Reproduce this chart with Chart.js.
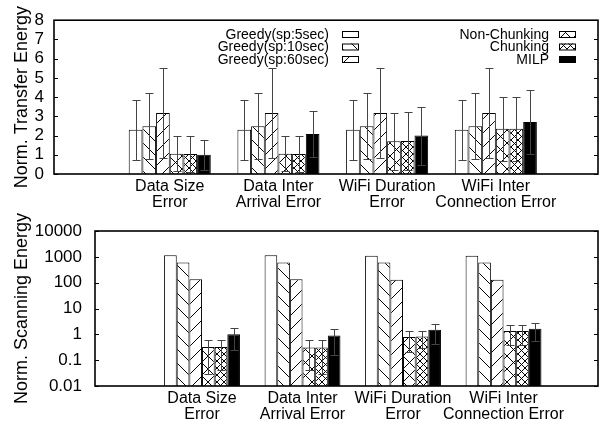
<!DOCTYPE html>
<html>
<head>
<meta charset="utf-8">
<script src="https://cdn.jsdelivr.net/npm/chart.js@4.4.1/dist/chart.umd.min.js"></script>
<style>
  body { margin: 0; background: #fff; width: 605px; height: 423px; position: relative; overflow: hidden; }
  .wrap { position: absolute; left: 0; width: 605px; }
  #topWrap { top: 0; height: 215px; }
  #botWrap { top: 200px; height: 223px; }
</style>
</head>
<body>
<div class="wrap" id="topWrap"><canvas id="transferChart"></canvas></div>
<div class="wrap" id="botWrap"><canvas id="scanChart"></canvas></div>
<script>
const categories = [
  ['Data Size', 'Error'],
  ['Data Inter', 'Arrival Error'],
  ['WiFi Duration', 'Error'],
  ['WiFi Inter', 'Connection Error']
];
const seriesNames = ['Greedy(sp:5sec)', 'Greedy(sp:10sec)', 'Greedy(sp:60sec)', 'Non-Chunking', 'Chunking', 'MILP'];

// normalized transfer energy (mean, error)
const transferGreedy5 = [2.3, 2.3, 2.3, 2.3];
const transferGreedy5Err = [1.55, 1.55, 1.55, 1.55];
const transferGreedy10 = [2.48, 2.48, 2.48, 2.48];
const transferGreedy10Err = [1.72, 1.72, 1.72, 1.72];
const transferGreedy60 = [3.17, 3.17, 3.17, 3.17];
const transferGreedy60Err = [2.33, 2.33, 2.33, 2.33];
const transferNonChunk = [1.05, 1.05, 1.7, 2.36];
const transferNonChunkErr = [0.91, 0.91, 1.47, 1.67];
const transferChunk = [1.04, 1.04, 1.72, 2.36];
const transferChunkErr = [0.92, 0.92, 1.52, 1.67];
const transferMilp = [1.0, 2.08, 2.0, 2.7];
const transferMilpErr = [0.79, 1.21, 1.51, 1.68];
const transferTicks = [0, 1, 2, 3, 4, 5, 6, 7, 8];

// normalized scanning energy (mean, error)
const scanGreedy5 = [1150, 1150, 1100, 1100];
const scanGreedy10 = [600, 600, 600, 600];
const scanGreedy60 = [135, 135, 131, 131];
const scanNonChunk = [0.32, 0.31, 0.78, 1.35];
const scanNonChunkErr = [0.29, 0.27, 0.58, 0.97];
const scanChunk = [0.32, 0.31, 0.83, 1.35];
const scanChunkErr = [0.28, 0.28, 0.53, 0.95];
const scanMilp = [1.0, 0.91, 1.52, 1.66];
const scanMilpErr = [0.76, 0.75, 1.08, 1.1];
const scanTicks = [0.01, 0.1, 1, 10, 100, 1000, 10000];

const FONT = "'Liberation Sans', Arial, Helvetica, sans-serif";

function hatch(size, dirs) {
  const c = document.createElement('canvas');
  c.width = c.height = size;
  const g = c.getContext('2d');
  g.fillStyle = '#fff';
  g.fillRect(0, 0, size, size);
  g.strokeStyle = '#000';
  g.lineWidth = 1;
  dirs.forEach(d => {
    for (let k = -1; k <= 1; k++) {
      g.beginPath();
      if (d === 'back') {
        g.moveTo(k * size, 0);
        g.lineTo(k * size + size, size);
      } else {
        g.moveTo(k * size, size);
        g.lineTo(k * size + size, 0);
      }
      g.stroke();
    }
  });
  return g.createPattern(c, 'repeat');
}

const fills = [
  '#fff',
  hatch(14, ['back']),
  hatch(14, ['fwd']),
  hatch(13, ['back', 'fwd']),
  hatch(7, ['back', 'fwd']),
  '#000'
];

const errorBars = {
  id: 'errorBars',
  afterDatasetsDraw(chart) {
    const ctx = chart.ctx;
    const y = chart.scales.y;
    ctx.save();
    ctx.strokeStyle = '#444';
    ctx.lineWidth = 1;
    chart.data.datasets.forEach((ds, i) => {
      if (!ds.errors) return;
      chart.getDatasetMeta(i).data.forEach((bar, j) => {
        const v = ds.data[j].y, e = ds.errors[j];
        if (!e) return;
        const x = Math.round(bar.x) + 0.5;
        const top = Math.round(y.getPixelForValue(v + e)) + 0.5;
        const bot = Math.round(y.getPixelForValue(v - e)) + 0.5;
        ctx.beginPath();
        ctx.moveTo(x, top); ctx.lineTo(x, bot);
        ctx.moveTo(x - 4, top); ctx.lineTo(x + 4, top);
        ctx.moveTo(x - 4, bot); ctx.lineTo(x + 4, bot);
        ctx.stroke();
      });
    });
    ctx.restore();
  }
};

const frame = {
  id: 'frame',
  afterDraw(chart) {
    const ctx = chart.ctx;
    const a = chart.chartArea;
    const y = chart.scales.y;
    ctx.save();
    ctx.strokeStyle = '#000';
    ctx.lineWidth = 1;
    y.ticks.forEach(t => {
      const py = Math.round(y.getPixelForValue(t.value)) + 0.5;
      ctx.beginPath();
      ctx.moveTo(a.left, py); ctx.lineTo(a.left + 4, py);
      ctx.moveTo(a.right - 4, py); ctx.lineTo(a.right, py);
      ctx.stroke();
    });
    ctx.lineWidth = 1.6;
    ctx.strokeRect(a.left, a.top, a.right - a.left, a.bottom - a.top);
    ctx.restore();
  }
};

const boxLegend = {
  id: 'boxLegend',
  afterDraw(chart) {
    if (!chart.options.plugins.boxLegend.show) return;
    const ctx = chart.ctx;
    const cols = [{ textRight: 329, box: 342 }, { textRight: 549, box: 559 }];
    const rows = [34, 46.5, 59];
    ctx.save();
    ctx.font = '14px ' + FONT;
    ctx.textAlign = 'right';
    ctx.textBaseline = 'middle';
    seriesNames.forEach((name, i) => {
      const col = cols[Math.floor(i / 3)];
      const ry = rows[i % 3];
      ctx.fillStyle = '#000';
      ctx.fillText(name, col.textRight, ry + 1);
      ctx.fillStyle = fills[i];
      ctx.fillRect(col.box, ry - 3, 16, 6);
      ctx.strokeStyle = '#000';
      ctx.lineWidth = 1;
      ctx.strokeRect(col.box + 0.5, ry - 3 + 0.5, 16, 6);
    });
    ctx.restore();
  }
};

function barSets(values, errors) {
  return values.map((vals, i) => ({
    label: seriesNames[i],
    data: vals.map((v, j) => ({ x: j, y: v })),
    errors: errors[i],
    backgroundColor: fills[i],
    borderColor: '#000',
    borderWidth: 1,
    categoryPercentage: 0.755,
    barPercentage: 1
  }));
}

function makeChart(id, datasets, yScale, title, frameBox, showLegend) {
  return new Chart(document.getElementById(id), {
    type: 'bar',
    data: { datasets: datasets },
    options: {
      responsive: true,
      maintainAspectRatio: false,
      animation: false,
      layout: { padding: { top: frameBox.top, right: 7, left: 0, bottom: 0 } },
      plugins: {
        legend: { display: false },
        tooltip: { enabled: false },
        boxLegend: { show: showLegend }
      },
      scales: {
        x: {
          type: 'linear',
          offset: false,
          min: -1.065,
          max: 3.94,
          grid: { display: false, drawTicks: false },
          border: { display: false },
          afterBuildTicks: axis => { axis.ticks = categories.map((c, i) => ({ value: i })); },
          afterFit: axis => { axis.height = frameBox.xHeight; },
          ticks: {
            color: '#000',
            padding: 5,
            maxRotation: 0,
            autoSkip: false,
            font: { family: FONT, size: 16, lineHeight: 1 },
            callback: v => categories[v]
          }
        },
        y: Object.assign({
          grid: { display: false, drawTicks: false },
          border: { display: false },
          afterFit: axis => { axis.width = frameBox.left; },
          title: {
            display: true,
            text: title,
            color: '#000',
            padding: { top: 11, bottom: 0 },
            font: { family: FONT, size: 18 }
          },
          ticks: {
            color: '#000',
            padding: frameBox.tickPad,
            autoSkip: false,
            font: { family: FONT, size: 17 },
            callback: v => String(v)
          }
        }, yScale)
      }
    },
    plugins: [errorBars, frame, boxLegend]
  });
}

makeChart('transferChart',
  barSets(
    [transferGreedy5, transferGreedy10, transferGreedy60, transferNonChunk, transferChunk, transferMilp],
    [transferGreedy5Err, transferGreedy10Err, transferGreedy60Err, transferNonChunkErr, transferChunkErr, transferMilpErr]
  ),
  {
    type: 'linear',
    min: 0,
    max: 8,
    afterBuildTicks: axis => { axis.ticks = transferTicks.map(v => ({ value: v })); }
  },
  'Norm. Transfer Energy',
  { top: 19, xHeight: 41, left: 54, tickPad: 10 },
  true
);

makeChart('scanChart',
  barSets(
    [scanGreedy5, scanGreedy10, scanGreedy60, scanNonChunk, scanChunk, scanMilp],
    [null, null, null, scanNonChunkErr, scanChunkErr, scanMilpErr]
  ),
  {
    type: 'logarithmic',
    min: 0.01,
    max: 10000,
    afterBuildTicks: axis => { axis.ticks = scanTicks.map(v => ({ value: v })); }
  },
  'Norm. Scanning Energy',
  { top: 31, xHeight: 37, left: 95, tickPad: 13 },
  false
);
</script>
</body>
</html>
